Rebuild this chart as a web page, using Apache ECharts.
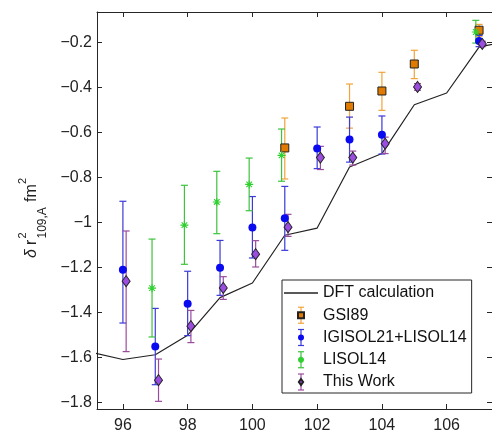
<!DOCTYPE html>
<html>
<head>
<meta charset="utf-8">
<script src="https://cdn.jsdelivr.net/npm/echarts@6/dist/echarts.min.js"></script>
<style>
html, body { margin: 0; padding: 0; background: #fff; }
#chart { width: 492px; height: 435px; }
</style>
</head>
<body>
<div id="chart"></div>
<script>
// mass number A and change of mean-square charge radius relative to A=109 (fm^2)
var dftA = [95, 96, 97, 98, 99, 100, 101, 102, 103, 104, 105, 106, 107, 108];
var dftR = [-1.575, -1.608, -1.587, -1.50, -1.333, -1.268, -1.056, -1.024, -0.753, -0.693, -0.476, -0.424, -0.22, -0.19];

var gsiA = [101, 103, 104, 105, 107];
var gsiR = [-0.668, -0.483, -0.415, -0.295, -0.145];
var gsiLo = [-0.806, -0.58, -0.501, -0.36, -0.172];
var gsiHi = [-0.535, -0.384, -0.332, -0.234, -0.119];

var igiA = [96, 97, 98, 99, 100, 101, 102, 103, 104, 107];
var igiR = [-1.209, -1.55, -1.36, -1.2, -1.021, -0.98, -0.671, -0.631, -0.609, -0.193];
var igiLo = [-1.446, -1.72, -1.502, -1.323, -1.157, -1.123, -0.76, -0.731, -0.695, -0.218];
var igiHi = [-0.905, -1.381, -1.216, -1.079, -0.884, -0.839, -0.575, -0.531, -0.526, -0.168];

var lisA = [97, 98, 99, 100, 101, 107];
var lisR = [-1.291, -1.011, -0.908, -0.83, -0.701, -0.153];
var lisLo = [-1.508, -1.185, -1.049, -0.947, -0.816, -0.202];
var lisHi = [-1.073, -0.834, -0.772, -0.713, -0.584, -0.101];

var thisA = [96, 97, 98, 99, 100, 101, 102, 103, 104, 105, 107];
var thisR = [-1.26, -1.70, -1.46, -1.29, -1.14, -1.02, -0.711, -0.711, -0.649, -0.397, -0.206];
var thisLo = [-1.573, -1.794, -1.533, -1.341, -1.197, -1.061, -0.764, -0.744, -0.693, -0.412, -0.218];
var thisHi = [-1.037, -1.606, -1.39, -1.24, -1.08, -0.963, -0.661, -0.682, -0.62, -0.382, -0.194];

var xTicks = [96, 98, 100, 102, 104, 106];
var yTicks = [-1.8, -1.6, -1.4, -1.2, -1, -0.8, -0.6, -0.4, -0.2];

var FONT = 'Liberation Sans, Arial, sans-serif';
var AX = '#262626';

function minus(v) {
    return String(+v.toFixed(1)).replace('-', '\u2212');
}

function errData(A, lo, hi, dx) {
    return A.map(function (a, i) { return [a + dx, lo[i], hi[i]]; });
}
function ptData(A, r, dx) {
    return A.map(function (a, i) { return [a + dx, r[i]]; });
}

function errSeries(name, data, color) {
    return {
        name: name,
        type: 'custom',
        z: 3,
        clip: true,
        silent: true,
        data: data,
        encode: { x: 0, y: [1, 2] },
        renderItem: function (params, api) {
            var x = api.value(0);
            var p1 = api.coord([x, api.value(1)]);
            var p2 = api.coord([x, api.value(2)]);
            var w = 3.5;
            var st = { stroke: color, lineWidth: 1.2 };
            return {
                type: 'group',
                children: [
                    { type: 'line', shape: { x1: p1[0], y1: p1[1], x2: p2[0], y2: p2[1] }, style: st },
                    { type: 'line', shape: { x1: p1[0] - w, y1: p1[1], x2: p1[0] + w, y2: p1[1] }, style: st },
                    { type: 'line', shape: { x1: p2[0] - w, y1: p2[1], x2: p2[0] + w, y2: p2[1] }, style: st }
                ]
            };
        }
    };
}

function axisSide(position, ticks, withLabels, isX) {
    var ax = {
        type: 'value', position: position,
        axisLine: { show: true, onZero: false, lineStyle: { color: AX, width: 1 } },
        axisTick: { show: true, inside: true, length: 5, customValues: ticks, lineStyle: { color: AX, width: 1 } },
        axisLabel: {
            show: true, customValues: ticks, formatter: minus, fontSize: 16,
            color: withLabels ? '#222' : 'rgba(0,0,0,0)', margin: isX ? 9 : 5, fontFamily: FONT
        },
        splitLine: { show: false }
    };
    if (isX) { ax.min = 95.2; ax.max = 107.4; } else { ax.min = -1.828; ax.max = -0.064; }
    return ax;
}

var orangeBar = '#f2a33a', blueBar = '#3a3ad8', greenBar = '#3cc43c', purpleBar = '#9b4b9e';
var star = 'path://M5,0L5,10M0,5L10,5M1.5,1.5L8.5,8.5M1.5,8.5L8.5,1.5';

// legend layout
var lgTop = 280, lgPadTop = 5, lgRow = 16, lgGap = 6.25, lgIconX = 301;
function rowY(i) { return lgTop + lgPadTop + i * (lgRow + lgGap) + lgRow / 2; }
function legendBar(i, color) {
    var y = rowY(i), h = 8, w = 3;
    var st = { stroke: color, lineWidth: 1.2 };
    return {
        type: 'group', z: 1, silent: true,
        children: [
            { type: 'line', shape: { x1: lgIconX, y1: y - h, x2: lgIconX, y2: y + h }, style: st },
            { type: 'line', shape: { x1: lgIconX - w, y1: y - h, x2: lgIconX + w, y2: y - h }, style: st },
            { type: 'line', shape: { x1: lgIconX - w, y1: y + h, x2: lgIconX + w, y2: y + h }, style: st }
        ]
    };
}

var chart = echarts.init(document.getElementById('chart'));
chart.setOption({
    animation: false,
    backgroundColor: '#fff',
    textStyle: { fontFamily: FONT },
    grid: { left: 97, top: 12, right: 0, bottom: 26, containLabel: false, outerBoundsMode: 'none' },
    xAxis: [axisSide('bottom', xTicks, true, true), axisSide('top', xTicks, false, true)],
    yAxis: [axisSide('left', yTicks, true, false), axisSide('right', yTicks, false, false)],
    legend: {
        orient: 'vertical',
        left: 282, top: lgTop,
        padding: [lgPadTop, 5, 3, 2],
        itemWidth: 34, itemHeight: 6, itemGap: lgGap,
        borderColor: AX, borderWidth: 1,
        selectedMode: false,
        symbolKeepAspect: true,
        textStyle: { fontSize: 16, color: '#111', lineHeight: lgRow, fontFamily: FONT },
        data: [
            { name: 'DFT calculation', icon: 'path://M0,0L34,0L34,1.3L0,1.3Z', itemStyle: { color: '#222', borderWidth: 0 } },
            { name: 'GSI89', icon: 'path://M0,0L10,0L10,10L0,10Z' },
            { name: 'IGISOL21+LISOL14', icon: 'circle' },
            { name: 'LISOL14', icon: star },
            { name: 'This Work', icon: 'path://M5,0L10,7L5,14L0,7Z' }
        ]
    },
    graphic: [
        legendBar(1, orangeBar), legendBar(2, blueBar), legendBar(3, greenBar), legendBar(4, purpleBar),
        {
            type: 'group', x: 37, y: 258, rotation: Math.PI / 2, silent: true,
            children: [
                { type: 'text', x: 0, y: -5.6, style: { text: '\u03b4', font: 'italic 16px ' + FONT, fill: '#222', verticalAlign: 'middle', textVerticalAlign: 'middle' } },
                { type: 'text', x: 13, y: -5.6, style: { text: 'r', font: '16px ' + FONT, fill: '#222', verticalAlign: 'middle', textVerticalAlign: 'middle' } },
                { type: 'text', x: 19.5, y: -13.9, style: { text: '2', font: '11px ' + FONT, fill: '#222', verticalAlign: 'middle', textVerticalAlign: 'middle' } },
                { type: 'text', x: 19.5, y: 5.8, style: { text: '109,A', font: '12px ' + FONT, fill: '#222', verticalAlign: 'middle', textVerticalAlign: 'middle' } },
                { type: 'text', x: 56, y: -5.6, style: { text: 'fm', font: '16px ' + FONT, fill: '#222', verticalAlign: 'middle', textVerticalAlign: 'middle' } },
                { type: 'text', x: 74, y: -13.9, style: { text: '2', font: '11px ' + FONT, fill: '#222', verticalAlign: 'middle', textVerticalAlign: 'middle' } }
            ]
        }
    ],
    series: [
        {
            name: 'DFT calculation', type: 'line', z: 2,
            data: ptData(dftA, dftR, 0),
            showSymbol: false, symbol: 'none', clip: true,
            lineStyle: { color: '#222', width: 1.2 },
            itemStyle: { color: '#222' }
        },
        errSeries('GSI89 err', errData(gsiA, gsiLo, gsiHi, 0), orangeBar),
        errSeries('IGISOL err', errData(igiA, igiLo, igiHi, 0), blueBar),
        errSeries('LISOL err', errData(lisA, lisLo, lisHi, -0.1), greenBar),
        errSeries('This err', errData(thisA, thisLo, thisHi, 0.1), purpleBar),
        {
            name: 'GSI89', type: 'scatter', z: 5,
            data: ptData(gsiA, gsiR, 0),
            symbol: 'rect', symbolSize: 8,
            itemStyle: { color: '#e07a00', borderColor: '#222', borderWidth: 1, opacity: 1 }
        },
        {
            name: 'IGISOL21+LISOL14', type: 'scatter', z: 5,
            data: ptData(igiA, igiR, 0),
            symbol: 'circle', symbolSize: 8,
            itemStyle: { color: '#0a0af0', opacity: 1 }
        },
        {
            name: 'LISOL14', type: 'scatter', z: 5,
            data: ptData(lisA, lisR, -0.1),
            symbol: star, symbolSize: 8,
            itemStyle: { color: '#2fd02f', borderColor: '#2fd02f', borderWidth: 1.1, opacity: 1 }
        },
        {
            name: 'This Work', type: 'scatter', z: 6,
            data: ptData(thisA, thisR, 0.1),
            symbol: 'diamond', symbolSize: [8, 11],
            itemStyle: { color: '#9b4de0', borderColor: '#222', borderWidth: 1, opacity: 1 }
        }
    ]
});
</script>
</body>
</html>
